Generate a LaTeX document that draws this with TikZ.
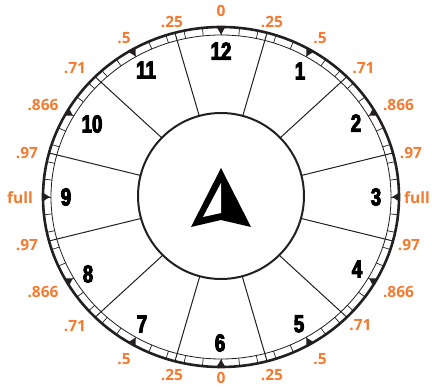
\documentclass[tikz,border=0pt]{standalone}
\usepackage{fontspec}
\setmainfont{Open Sans}
\newfontfamily\numfont[FakeStretch=0.76,FakeBold=4]{Liberation Sans Bold}
\definecolor{DialInk}{HTML}{231F20}
\definecolor{DialOrange}{HTML}{F47B30}
\tikzset{
  ratio/.style={text=DialOrange, font=\bfseries\fontsize{15.5}{17}\selectfont, inner sep=0pt},
  hour/.style={text=black, font=\numfont\fontsize{24.5}{26}\selectfont, inner sep=0pt},
  hubdisc/.style={draw=DialInk, line width=2pt, fill=white, circle, minimum size=166pt, inner sep=0pt}
}
\begin{document}
\begin{tikzpicture}[x=1pt,y=-1pt]
        \useasboundingbox[fill=white] (0,0) rectangle (432,387);
        % ring
        \begin{scope}[shift={(221,197)}]
          \foreach \a in {15,45,...,345}
            \draw[DialInk, line width=1pt] ({83*sin(\a)},{-83*cos(\a)}) -- ({178*sin(\a)},{-170*cos(\a)});
          \foreach \a in {0,6,...,354}
            \draw[DialInk, line width=0.7pt] ({170*sin(\a)},{-162*cos(\a)}) -- ({178*sin(\a)},{-170*cos(\a)});
          \foreach \a in {0,30,...,330}
            \fill[DialInk] ({171*sin(\a)},{-162.5*cos(\a)}) -- ({177.5*sin(\a-1.3)},{-169.5*cos(\a-1.3)}) -- ({177.5*sin(\a+1.3)},{-169.5*cos(\a+1.3)}) -- cycle;
          \draw[DialInk, line width=0.8pt] (0,0) ellipse [x radius=170pt, y radius=162pt];
          \draw[DialInk, line width=2.6pt] (0,0) ellipse [x radius=178pt, y radius=170pt];
        \end{scope}
        \node[hubdisc] (hub) at (221,196) {};
        % pointer
        \fill[black] (221,168) -- (251,227) -- (221,220) -- (191,227) -- cycle;
        \fill[white] (221,183) -- (221,213) -- (203,217) -- cycle;
        % hours
        \foreach \t/\px/\py [count=\i] in {12/221/51, 1/300/71, 2/356/123, 3/376/197, 4/357/269, 5/299/324, 6/220/343, 7/142/324, 8/88/274, 9/66/197, 10/92/124, 11/146/70}
          \node[hour] (hour\i) at (\px,\py) {\t};
        % ratios
        \foreach \t/\px/\py [count=\i] in {0/221/11, .25/272/22, .5/320/38, .71/363.5/68, .866/398.5/105, .97/411/153, full/417/198, .97/409/245, .866/398.5/292, .71/360.5/325, .5/320/359, .25/272/375, 0/221/377.5, .25/172/375, .5/124/359, .71/75/326, .866/43/292, .97/27/245, full/20/198, .97/27/153, .866/43/105, .71/75/68, .5/124/38, .25/172/22}
          \node[ratio] (ratio\i) at (\px,\py) {\t};
      \end{tikzpicture}
\end{document}
